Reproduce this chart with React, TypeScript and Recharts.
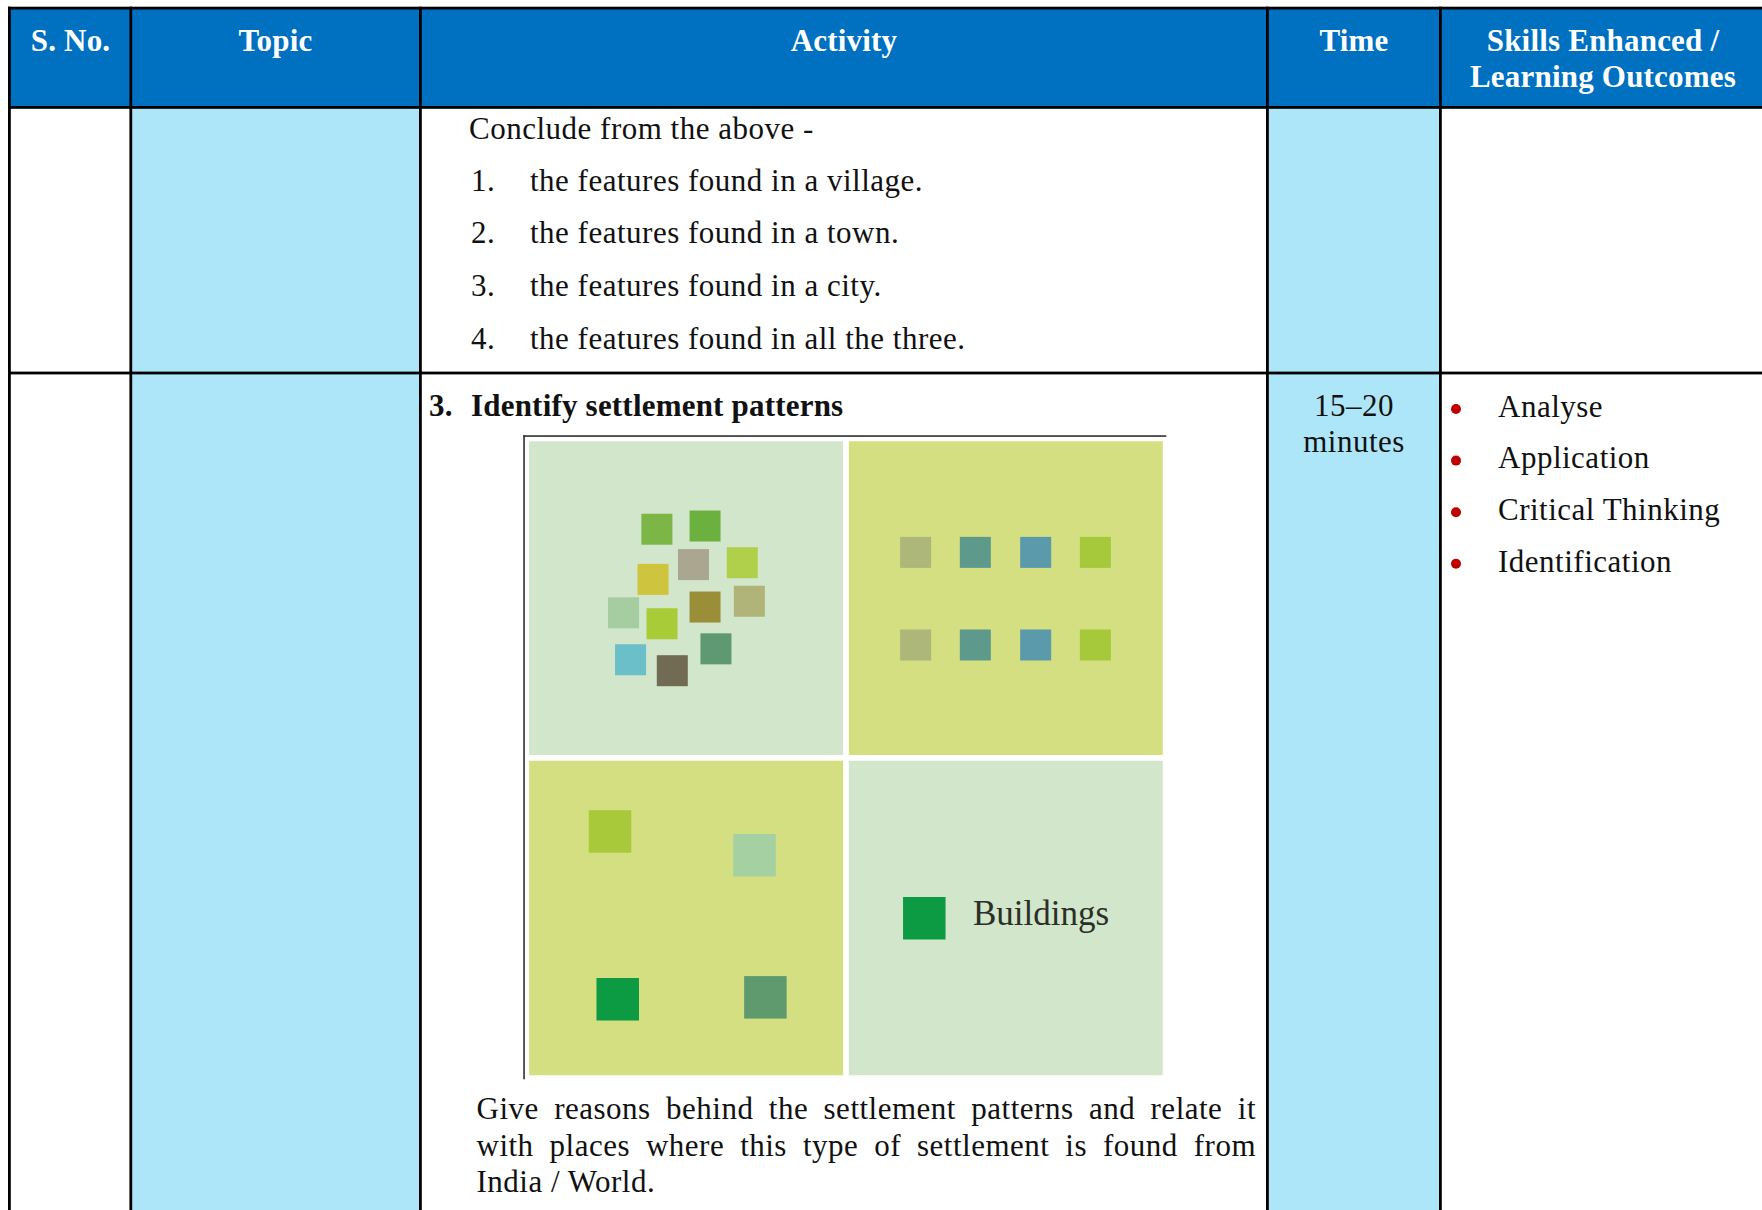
import React from 'react';
import { ScatterChart, Scatter, XAxis, YAxis, ReferenceArea, Cell } from 'recharts';

const SERIF = "'Liberation Serif', 'Times New Roman', serif";
const BLUE = '#0070C0';
const LIGHT = '#ADE6F8';

// table text
const headerLabels = ['S. No.', 'Topic', 'Activity', 'Time'];
const skillsHeader = ['Skills Enhanced /', 'Learning Outcomes'];
const concludeIntro = 'Conclude from the above -';
const concludeItems = [
  'the features found in a village.',
  'the features found in a town.',
  'the features found in a city.',
  'the features found in all the three.',
];
const activityNo = '3.';
const activityTitle = 'Identify settlement patterns';
const timeLines = ['15–20', 'minutes'];
const skills = ['Analyse', 'Application', 'Critical Thinking', 'Identification'];
const reasonLines = [
  'Give reasons behind the settlement patterns and relate it',
  'with places where this type of settlement is found from',
  'India / World.',
];

// settlement plan, 0..100 on both axes (y grows downward)
const fields = [
  { x1: 0.8, x2: 49.7, y1: 0.8, y2: 49.6, tone: '#D1E6CB' },
  { x1: 50.6, x2: 99.5, y1: 0.8, y2: 49.6, tone: '#D4DF81' },
  { x1: 0.8, x2: 49.7, y1: 50.5, y2: 99.4, tone: '#D4DF81' },
  { x1: 50.6, x2: 99.5, y1: 50.5, y2: 99.4, tone: '#D1E6CB' },
];

const clustered = [
  { x: 20.7, y: 14.5 },
  { x: 28.2, y: 14.0 },
  { x: 26.4, y: 20.0 },
  { x: 34.0, y: 19.7 },
  { x: 20.1, y: 22.3 },
  { x: 28.2, y: 26.6 },
  { x: 35.1, y: 25.7 },
  { x: 15.5, y: 27.5 },
  { x: 21.5, y: 29.2 },
  { x: 29.9, y: 33.1 },
  { x: 16.6, y: 34.8 },
  { x: 23.1, y: 36.5 },
];
const clusteredColors = [
  '#7BB646', '#6CB03F', '#ABA690', '#B0D04C', '#CFC43E', '#9A8E38',
  '#B0B478', '#A6CDA1', '#A8CB38', '#5E9973', '#6BBFC8', '#716B53',
];

const linear = [
  { x: 61.0, y: 18.1 },
  { x: 70.3, y: 18.1 },
  { x: 79.7, y: 18.1 },
  { x: 89.0, y: 18.1 },
  { x: 61.0, y: 32.5 },
  { x: 70.3, y: 32.5 },
  { x: 79.7, y: 32.5 },
  { x: 89.0, y: 32.5 },
];
const linearColors = [
  '#AEB77A', '#5E9A8C', '#5B9AAA', '#A5C93A',
  '#AEB77A', '#5E9A8C', '#5B9AAA', '#A5C93A',
];

const dispersed = [
  { x: 13.4, y: 61.5 },
  { x: 35.9, y: 65.2 },
  { x: 14.6, y: 87.6 },
  { x: 37.6, y: 87.3 },
];
const dispersedColors = ['#A7C93A', '#A4D0A2', '#0C9B43', '#5F9A6F'];

const legendKey = [{ x: 62.35, y: 75.0 }];
const legendLabel = 'Buildings';

const square = (size: number, colors: string[]) => (p: any) => {
  const fill = colors[p.index] ?? p.fill;
  return (
    <rect x={p.cx - size / 2} y={p.cy - size / 2} width={size} height={size} fill={fill} />
  );
};

function SettlementPlan() {
  return (
    <ScatterChart width={642} height={643} margin={{ top: 0, right: 0, bottom: 0, left: 0 }}>
      <XAxis type="number" dataKey="x" domain={[0, 100]} hide />
      <YAxis type="number" dataKey="y" domain={[0, 100]} reversed hide />
      {fields.map((f, i) => (
        <ReferenceArea
          key={i}
          x1={f.x1}
          x2={f.x2}
          y1={f.y1}
          y2={f.y2}
          fill={f.tone}
          fillOpacity={1}
          stroke="none"
          ifOverflow="visible"
        />
      ))}
      <Scatter data={clustered} shape={square(31, clusteredColors)} isAnimationActive={false}>
        {clusteredColors.map((c, i) => <Cell key={i} fill={c} />)}
      </Scatter>
      <Scatter data={linear} shape={square(31, linearColors)} isAnimationActive={false}>
        {linearColors.map((c, i) => <Cell key={i} fill={c} />)}
      </Scatter>
      <Scatter data={dispersed} shape={square(42.5, dispersedColors)} isAnimationActive={false}>
        {dispersedColors.map((c, i) => <Cell key={i} fill={c} />)}
      </Scatter>
      <Scatter data={legendKey} shape={square(42.5, ['#0C9B43'])} isAnimationActive={false} />
    </ScatterChart>
  );
}

export default function App() {
  const W = 1762;
  const H = 1210;
  const headerX = [70.5, 275.5, 844, 1354];
  const vLines = [129.4, 419, 1266, 1439];
  const hLines = [106, 371.6];
  const body = { fontFamily: SERIF, fontSize: 31, fill: '#111', style: { letterSpacing: '0.5px' } };
  const bold = { fontFamily: SERIF, fontSize: 31, fontWeight: 'bold', style: { letterSpacing: '0.2px' } };

  return (
    <div style={{ position: 'absolute', left: 0, top: 0, width: W, height: H, overflow: 'hidden', background: '#fff' }}>
      <div style={{ position: 'absolute', left: 524, top: 436, width: 642, height: 643 }}>
        <SettlementPlan />
      </div>

      <svg width={W} height={H} style={{ position: 'absolute', left: 0, top: 0, pointerEvents: 'none' }}>
        {/* cell fills */}
        <rect x={8} y={7} width={W - 8} height={101} fill={BLUE} />
        <rect x={131} y={108} width={289} height={H - 108} fill={LIGHT} />
        <rect x={1268} y={108} width={172} height={H - 108} fill={LIGHT} />

        {/* grid */}
        <rect x={8} y={6.7} width={W - 8} height={2.8} fill="#000" />
        <rect x={8} y={6.7} width={2.8} height={H} fill="#000" />
        {vLines.map((x) => (
          <rect key={x} x={x} y={6.7} width={2.8} height={H} fill="#000" />
        ))}
        {hLines.map((y) => (
          <rect key={y} x={8} y={y} width={W - 8} height={2.8} fill="#000" />
        ))}

        {/* header */}
        {headerLabels.map((t, i) => (
          <text key={t} x={headerX[i]} y={51} textAnchor="middle" {...bold} fill="#fff">
            {t}
          </text>
        ))}
        {skillsHeader.map((t, i) => (
          <text key={t} x={1603} y={51 + i * 35.5} textAnchor="middle" {...bold} fill="#fff">
            {t}
          </text>
        ))}

        {/* row 1 */}
        <text x={469} y={139} {...body}>{concludeIntro}</text>
        {concludeItems.map((t, i) => (
          <g key={t}>
            <text x={471} y={190.5 + i * 52.7} {...body}>{`${i + 1}.`}</text>
            <text x={530} y={190.5 + i * 52.7} {...body}>{t}</text>
          </g>
        ))}

        {/* row 2 */}
        <text x={429} y={416} {...bold} fill="#111">{activityNo}</text>
        <text x={471} y={416} {...bold} fill="#111">{activityTitle}</text>
        {timeLines.map((t, i) => (
          <text key={t} x={1354} y={416 + i * 36} textAnchor="middle" {...body}>{t}</text>
        ))}
        {skills.map((t, i) => (
          <g key={t}>
            <circle cx={1456} cy={409 + i * 51.6} r={5} fill="#C00000" />
            <text x={1498} y={416.5 + i * 51.7} {...body}>{t}</text>
          </g>
        ))}

        {/* picture frame */}
        <rect x={523.3} y={435.3} width={643} height={1.5} fill="#222" />
        <rect x={523.3} y={435.3} width={1.5} height={644} fill="#222" />
        <text x={973} y={925} fontFamily={SERIF} fontSize={35} fill="#2B2F27">{legendLabel}</text>
      </svg>

      {reasonLines.map((t, i) => (
        <div
          key={t}
          style={{
            position: 'absolute',
            left: 476.5,
            top: 1091.3 + i * 36.5,
            width: 779.5,
            fontFamily: SERIF,
            fontSize: 31,
            lineHeight: '36.5px',
            letterSpacing: '0.5px',
            color: '#111',
            whiteSpace: 'nowrap',
            textAlign: i < reasonLines.length - 1 ? 'justify' : 'left',
            textAlignLast: i < reasonLines.length - 1 ? 'justify' : 'left',
          }}
        >
          {t}
        </div>
      ))}
    </div>
  );
}
